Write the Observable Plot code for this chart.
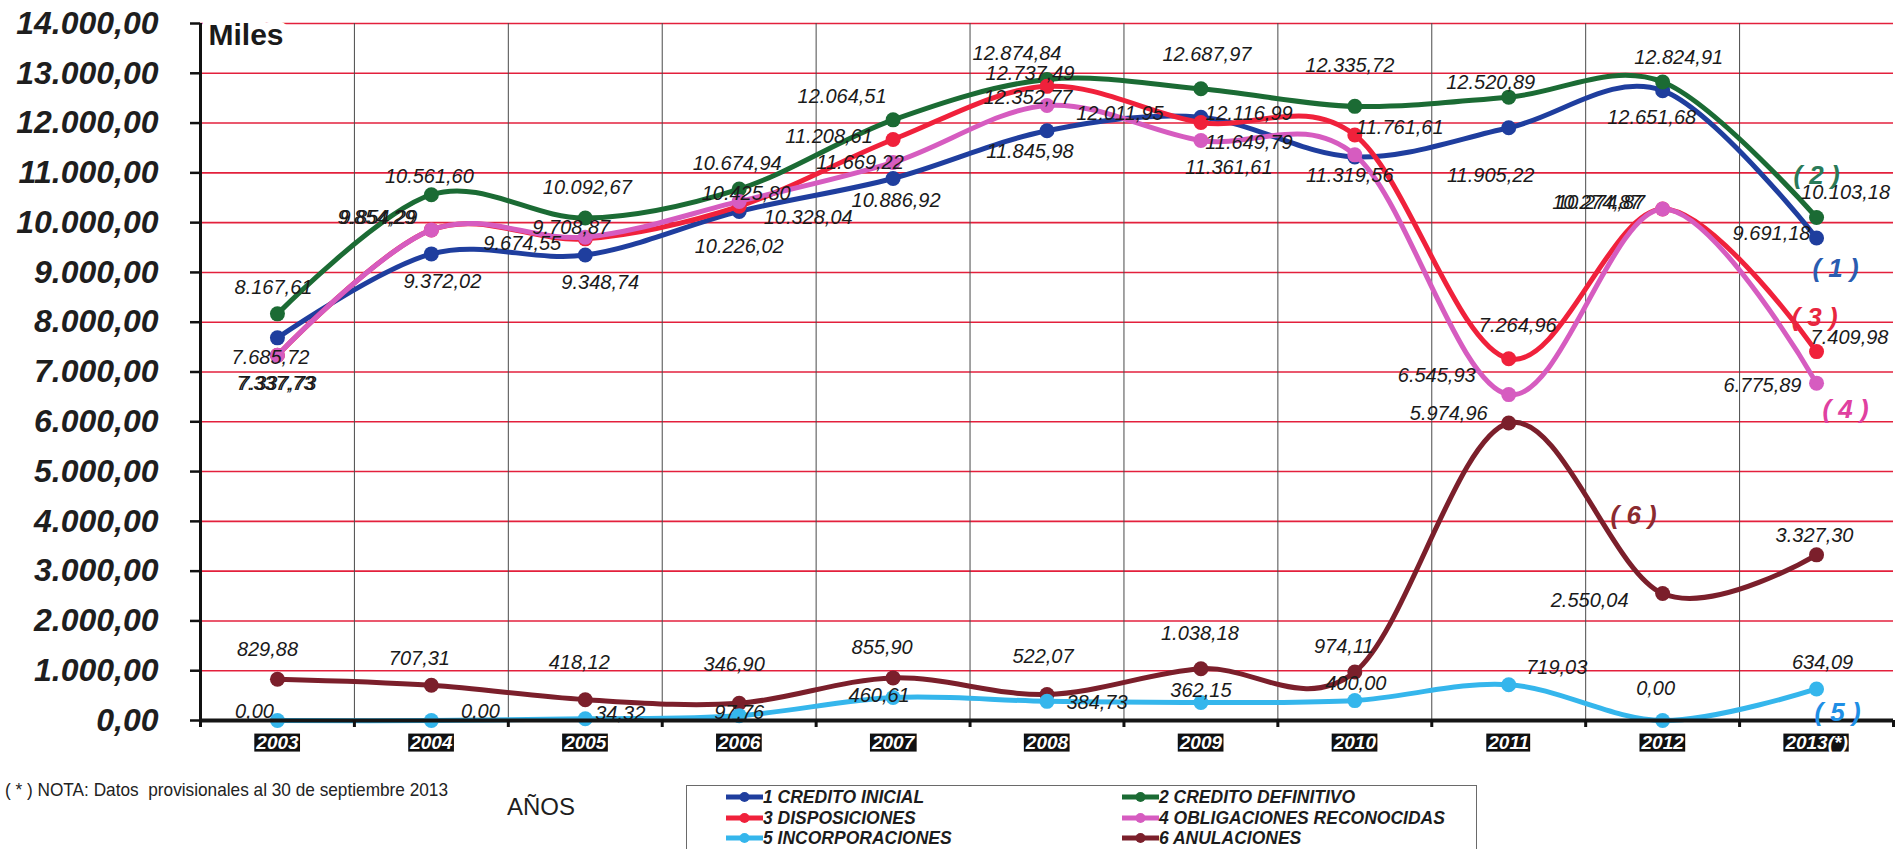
<!DOCTYPE html>
<html>
<head>
<meta charset="utf-8">
<script src="https://cdn.jsdelivr.net/npm/d3@7"></script>
<script src="https://cdn.jsdelivr.net/npm/@observablehq/plot@0.6"></script>
<style>
  body { margin: 0; background: #fff; font-family: "Liberation Sans", Arial, sans-serif; }
  #wrap { position: relative; width: 1897px; height: 849px; overflow: hidden; background: #fff; }
  #chart { position: absolute; left: 0; top: 0; }
  #note { position: absolute; left: 5px; top: 780px; font-size: 19px; line-height: 19px; color: #222; white-space: pre; transform-origin: left center; }
  #anos { position: absolute; left: 507px; top: 795px; font-size: 24px; line-height: 24px; color: #1e1e1e; }
  #legend { position: absolute; left: 686px; top: 785px; width: 791px; height: 66px; border: 1px solid #6a6a6a; box-sizing: border-box; background: #fff; }
  .item { position: absolute; height: 20px; display: flex; align-items: center; font-size: 17.5px; line-height: 20px; font-weight: bold; font-style: italic; color: #1c1c1c; white-space: nowrap; }
</style>
</head>
<body>
<div id="wrap">
  <div id="chart"></div>
  <div id="note">( * ) NOTA: Datos  provisionales al 30 de septiembre 2013</div>
  <div id="anos">AÑOS</div>
  <div id="legend"></div>
</div>
<script>
// ---------- DATA ----------
const years = ["2003", "2004", "2005", "2006", "2007", "2008", "2009", "2010", "2011", "2012", "2013(*)"];
const creditoInicial    = [7685.72, 9372.02, 9348.74, 10226.02, 10886.92, 11845.98, 12116.99, 11319.56, 11905.22, 12651.68, 9691.18];
const creditoDefinitivo = [8167.61, 10561.60, 10092.67, 10674.94, 12064.51, 12874.84, 12687.97, 12335.72, 12520.89, 12824.91, 10103.18];
const disposiciones     = [7337.73, 9854.29, 9674.55, 10328.04, 11669.22, 12737.49, 12011.95, 11761.61, 7264.96, 10274.87, 7409.98];
const obligaciones      = [7337.73, 9854.29, 9708.87, 10425.80, 11208.61, 12352.77, 11649.79, 11361.61, 6545.93, 10274.87, 6775.89];
const incorporaciones   = [0.00, 0.00, 34.32, 97.76, 460.61, 384.73, 362.15, 400.00, 719.03, 0.00, 634.09];
const anulaciones       = [829.88, 707.31, 418.12, 346.90, 855.90, 522.07, 1038.18, 974.11, 5974.96, 2550.04, 3327.30];
const seriesNames = ["1 CREDITO INICIAL", "2 CREDITO DEFINITIVO", "3 DISPOSICIONES", "4 OBLIGACIONES RECONOCIDAS", "5 INCORPORACIONES", "6 ANULACIONES"];
const seriesTags  = ["( 1 )", "( 2 )", "( 3 )", "( 4 )", "( 5 )", "( 6 )"];
const yTicks = d3.range(0, 14001, 1000);

// ---------- STYLE / LAYOUT ----------
const seriesValues = [creditoInicial, creditoDefinitivo, disposiciones, obligaciones, incorporaciones, anulaciones];
const seriesColors = ["#1f3e9e", "#1b6b34", "#f0213b", "#d65cc0", "#35b6ec", "#7b1f2b"];
const tagColors    = ["#2a5cb0", "#2a7a58", "#e8263f", "#e040a0", "#1f8fe5", "#8a2b30"];
const drawOrder = [5, 4, 0, 1, 2, 3];
// label offsets (px) relative to each point, per series
const labelDx = [
  [-7, 11, 15, 0, 3, -17, 48, -5, -18, -11, -45],
  [-4, -2, 2, -2, -51, -30, 6, -5, -18, 16, 29],
  [-2, -55, -63, 69, -33, -17, -81, 45, 9, -66, 33],
  [0, -53, -14, 7, -64, -19, 48, -126, -72, -62, -54],
  [-23, 49, 35, 0, -14, 50, 0, 1, 48, -7, 6],
  [-10, -12, -6, -5, -11, -4, -1, -11, -60, -73, -2]
];
const labelDy = [
  [20, 28, 28, 35, 22, 21, -4, 19, 48, 27, -4],
  [-26, -18, -30, -25, -23, -26, -34, -41, -15, -24, -25],
  [28, -12, 5, 11, 23, -13, -9, -7, -33, -6, -14],
  [28, -12, -10, -8, -26, -8, 2, 13, -19, -6, 2],
  [-9, -9, -5, -3, -2, 1, -12, -17, -17, -32, -26],
  [-30, -27, -37, -39, -30, -38, -35, -25, -9, 7, -19]
];
// tag "(n)" anchor index and offset
const tagIndex = [10, 10, 10, 10, 10, 9];
const tagDx = [19, 0, -2, 29, 21, -29];
const tagDy = [31, -42, -34, 27, 24, -78];

const fmt = v => d3.format(",.2f")(v).replace(/,/g, "#").replace(/\./g, ",").replace(/#/g, ".");
const idx = d3.range(years.length);
const inner = d3.range(0.5, years.length - 1, 1);
const edges = d3.range(-0.5, years.length, 1);

const rows = seriesValues.map((vals, s) => vals.map((v, i) => ({s, i, v})));

const marks = [
  Plot.ruleY(yTicks.filter(d => d > 0), {stroke: "#e3203c", strokeWidth: 1.6}),
  Plot.ruleX(inner, {stroke: "#4a4a4a", strokeWidth: 1}),
  Plot.text(["Miles"], {frameAnchor: "top-left", textAnchor: "start", lineAnchor: "top", dx: 8, dy: 0,
    fontSize: 30, fontWeight: "bold", fill: "#1a1a1a", stroke: "white", strokeWidth: 16, paintOrder: "stroke"})
];
for (const s of drawOrder) {
  marks.push(Plot.line(rows[s], {x: "i", y: "v", stroke: seriesColors[s], strokeWidth: 5, curve: "cardinal"}));
  marks.push(Plot.dot(rows[s], {x: "i", y: "v", r: 7.5, fill: seriesColors[s]}));
}
marks.push(
  Plot.ruleX([-0.5], {stroke: "#111", strokeWidth: 3}),
  Plot.ruleY([0], {stroke: "#151515", strokeWidth: 4}),
  Plot.axisY({ticks: yTicks, tickFormat: fmt, label: null, tickSize: 10, tickPadding: 32,
    fontSize: 32, fontWeight: "bold", fontStyle: "italic", fill: "#1e1e1e", stroke: "#111", strokeWidth: 2.5}),
  Plot.axisX({ticks: edges, tickFormat: () => "", label: null, tickSize: 7, stroke: "#111", strokeWidth: 3}),
  Plot.text(idx, {x: d => d, frameAnchor: "bottom", lineAnchor: "middle", dy: 22, text: d => years[d],
    fill: "white", fontSize: 19, fontWeight: "bold", fontStyle: "italic", ariaDescription: "xlabels"})
);
for (let s = 0; s < 6; s++) {
  for (let i = 0; i < years.length; i++) {
    marks.push(Plot.text([rows[s][i]], {x: "i", y: "v", text: d => fmt(d.v), dx: labelDx[s][i], dy: labelDy[s][i],
      fontSize: 20, fontStyle: "italic", fill: "#1a1a1a"}));
  }
  marks.push(Plot.text([rows[s][tagIndex[s]]], {x: "i", y: "v", text: () => seriesTags[s], dx: tagDx[s], dy: tagDy[s],
    fontSize: 26, fontWeight: "bold", fontStyle: "italic", fill: tagColors[s]}));
}

const svg = Plot.plot({
  width: 1897,
  height: 760,
  marginLeft: 200,
  marginRight: 4,
  marginTop: 23,
  marginBottom: 40,
  style: {fontFamily: "Liberation Sans, Arial, sans-serif", background: "white", overflow: "visible"},
  x: {type: "linear", domain: [-0.5, years.length - 0.5], axis: null},
  y: {domain: [0, 14000], axis: null},
  marks
});
document.getElementById("chart").appendChild(svg);

// black boxes behind year labels
const yearSet = new Set(years);
svg.querySelectorAll("text").forEach(t => {
  if (!yearSet.has(t.textContent)) return;
  const g = t.parentNode;
  if ((g.getAttribute("fill") || "") !== "white") return;
  const b = t.getBBox();
  const r = document.createElementNS("http://www.w3.org/2000/svg", "rect");
  r.setAttribute("x", b.x - 1);
  r.setAttribute("y", b.y + 2);
  r.setAttribute("width", b.width + 2);
  r.setAttribute("height", b.height - 3);
  r.setAttribute("fill", "#111");
  const tr = t.getAttribute("transform");
  if (tr) r.setAttribute("transform", tr);
  g.insertBefore(r, t);
});

// legend
const legend = document.getElementById("legend");
const colLeft = [39, 435];
const rowTop = [1, 21.5, 41.5];
seriesNames.forEach((name, s) => {
  const div = document.createElement("div");
  div.className = "item";
  div.style.left = colLeft[s % 2] + "px";
  div.style.top = rowTop[Math.floor(s / 2)] + "px";
  div.innerHTML = `<svg width="37" height="14"><line x1="0" y1="7" x2="37" y2="7" stroke="${seriesColors[s]}" stroke-width="5"/><circle cx="18.5" cy="7" r="5" fill="${seriesColors[s]}"/></svg><span>${name}</span>`;
  legend.appendChild(div);
});

// fit note width
const note = document.getElementById("note");
const w = note.getBoundingClientRect().width;
note.style.transform = `scaleX(${443 / w})`;
</script>
</body>
</html>
